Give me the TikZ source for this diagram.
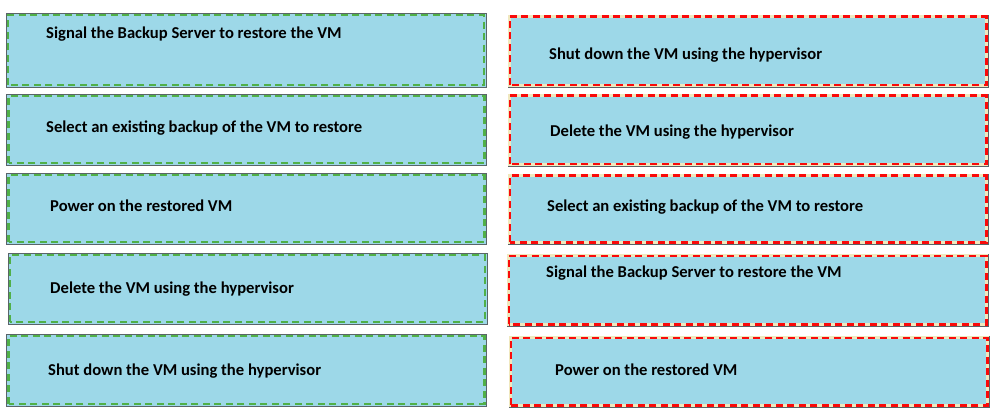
\documentclass[tikz,border=0pt]{standalone}
\usepackage{fontspec}
\setmainfont{Carlito}
\definecolor{boxfill}{RGB}{157,216,232}
\definecolor{boxline}{RGB}{90,100,105}
\definecolor{dashgreen}{RGB}{80,176,72}
\definecolor{dashred}{RGB}{250,10,10}
\definecolor{cream}{RGB}{240,232,190}
\tikzset{
  stepnode/.style={rectangle, fill=boxfill, draw=boxline, line width=0.7pt,
                   minimum width=480pt, inner sep=0pt},
  steptext/.style={anchor=west, font=\bfseries\fontsize{16.6}{19}\selectfont, inner sep=0pt},
  greendash/.style={draw=dashgreen, line width=2.4pt, dash pattern=on 7pt off 4.5pt},
  reddash/.style={draw=dashred, line width=2.3pt, dash pattern=on 7pt off 4.5pt},
  creamband/.style={draw=cream, line width=3pt}
}
\begin{document}
\begin{tikzpicture}[x=1pt,y=-1pt]
 \useasboundingbox (0,0) rectangle (994,417);
 % left column
 \node[stepnode, minimum height=74pt] (l1) at (246,50) {};
 \node[stepnode, minimum height=71pt] (l2) at (246.5,129.5) {};
 \node[stepnode, minimum height=71pt] (l3) at (246.5,208.5) {};
 \node[stepnode, minimum height=71pt, minimum width=479pt] (l4) at (247.5,288.5) {};
 \node[stepnode, minimum height=72pt] (l5) at (246.5,370) {};
 % right column
 \node[stepnode, minimum height=72pt] (r1) at (748,51) {};
 \node[stepnode, minimum height=72pt] (r2) at (748,130) {};
 \node[stepnode, minimum height=70pt] (r3) at (748,209) {};
 \node[stepnode, minimum height=72pt, minimum width=481pt] (r4) at (747.5,290) {};
 \node[stepnode, minimum height=71pt] (r5) at (749,371.5) {};
 % dashed borders
 \foreach \b in {l1,l2,l3,l4,l5}
   \draw[greendash] ([shift={(2.5,-2.5)}]\b.south west) rectangle ([shift={(-2.5,2.5)}]\b.north east);
 \foreach \b in {r1,r2,r3,r4,r5}
   {\draw[creamband] ([shift={(2,-2)}]\b.south west) rectangle ([shift={(-2,2)}]\b.north east);
    \draw[reddash] ([shift={(2,-2)}]\b.south west) rectangle ([shift={(-2,2)}]\b.north east);}
 % texts
 \node[steptext] (t-l1) at (46,34) {Signal the Backup Server to restore the VM};
 \node[steptext] (t-l2) at (46,128) {Select an existing backup of the VM to restore};
 \node[steptext] (t-l3) at (50,206) {Power on the restored VM};
 \node[steptext] (t-l4) at (50,289) {Delete the VM using the hypervisor};
 \node[steptext] (t-l5) at (48,371) {Shut down the VM using the hypervisor};
 \node[steptext] (t-r1) at (549,55) {Shut down the VM using the hypervisor};
 \node[steptext] (t-r2) at (550,132) {Delete the VM using the hypervisor};
 \node[steptext] (t-r3) at (547,207) {Select an existing backup of the VM to restore};
 \node[steptext] (t-r4) at (546,273) {Signal the Backup Server to restore the VM};
 \node[steptext] (t-r5) at (555,370) {Power on the restored VM};
\end{tikzpicture}
\end{document}
